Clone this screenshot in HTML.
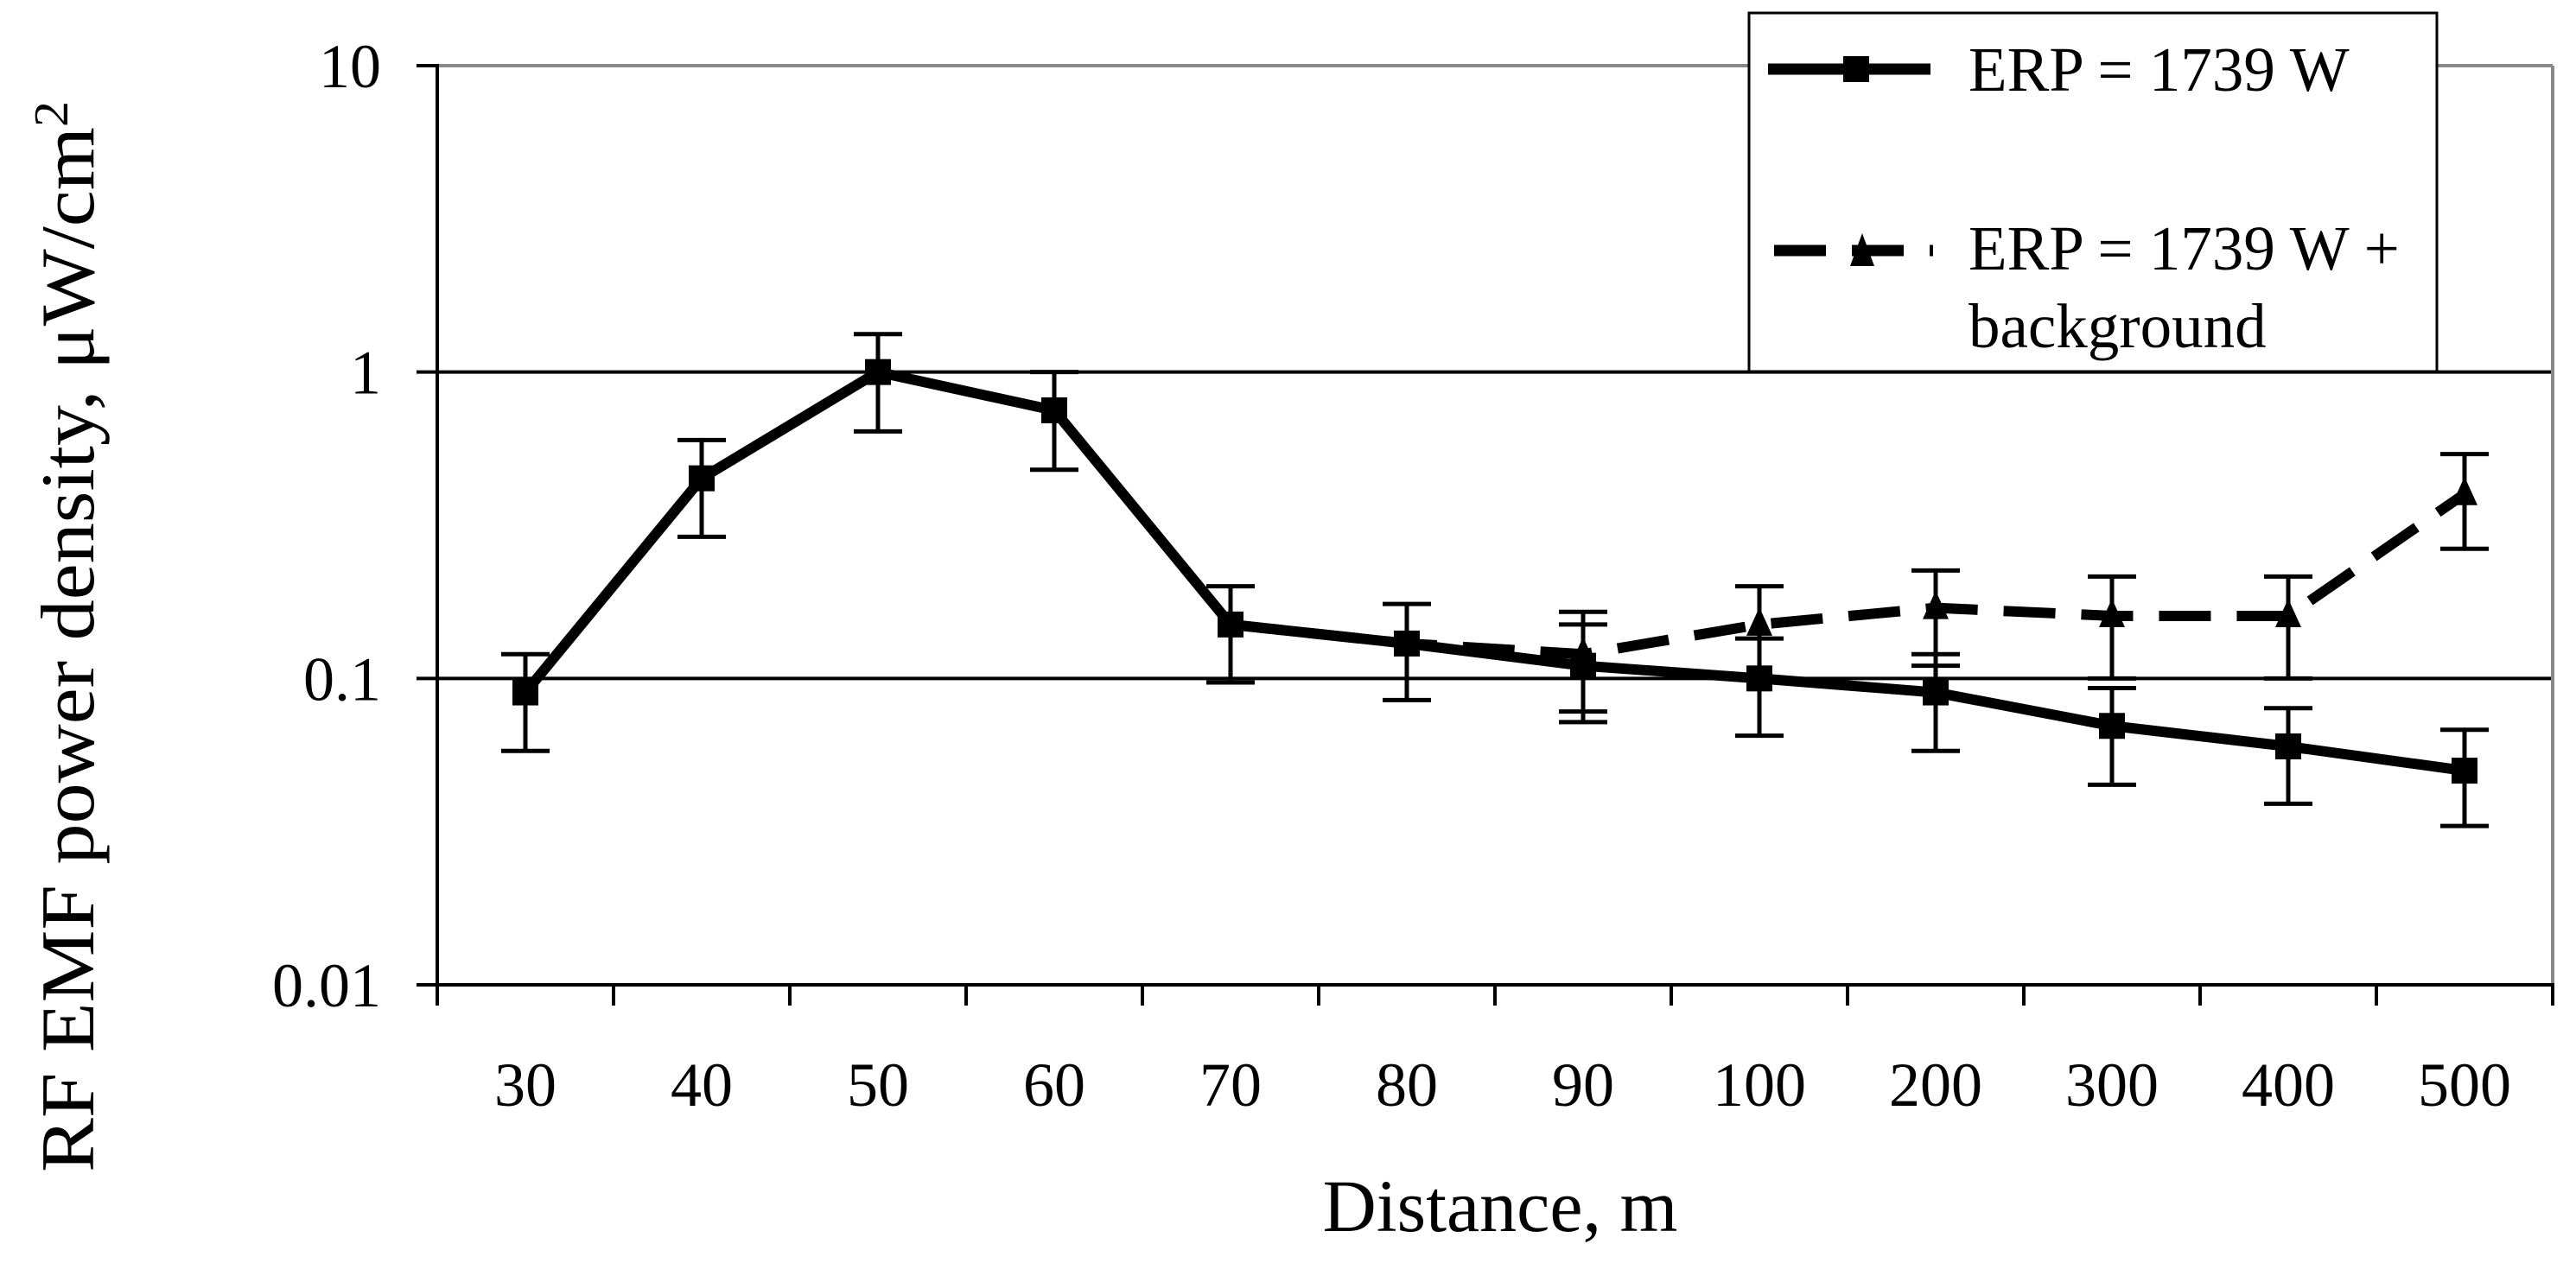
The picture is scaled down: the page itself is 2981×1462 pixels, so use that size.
<!DOCTYPE html>
<html><head><meta charset="utf-8"><style>
html,body{margin:0;padding:0;background:#fff}
svg{display:block}
text{font-family:"Liberation Serif",serif;fill:#000}
</style></head><body>
<svg id="chart" width="2981" height="1462" viewBox="0 0 2981 1462" xmlns="http://www.w3.org/2000/svg">
<rect x="0" y="0" width="2981" height="1462" fill="#fff"/>
<g id="grid"></g>
<g id="axes"></g>
<g id="series"></g>
<text x="1736" y="1425" font-size="86" text-anchor="middle">Distance, m</text>
<text transform="translate(108,737) rotate(-90)" font-size="88" text-anchor="middle" textLength="1240" lengthAdjust="spacingAndGlyphs">RF EMF power density, μW/cm<tspan dy="-30" font-size="56">2</tspan></text>
<g>
<rect x="2024" y="15" width="796" height="415" fill="#fff" stroke="#000" stroke-width="3"/>
<g>
<line x1="2046" y1="80" x2="2234" y2="80" stroke="#000" stroke-width="13"/>
<rect x="2133" y="65" width="30" height="30" fill="#000"/>
<text x="2278" y="105" font-size="73">ERP = 1739 W</text>
</g>
<g>
<line x1="2053" y1="290" x2="2237" y2="290" stroke="#000" stroke-width="13" stroke-dasharray="60,30"/>
<polygon points="2155,270 2141,308 2169,308" fill="#000"/>
<text x="2278" y="312" font-size="73">ERP = 1739 W +</text>
<text x="2278" y="402" font-size="73">background</text>
</g>
</g>
</svg>
<script>
const categories = ["30","40","50","60","70","80","90","100","200","300","400","500"];
const yTicks = [10, 1, 0.1, 0.01];
const yTickLabels = ["10","1","0.1","0.01"];
const erpValues = [0.09,0.45,1.0,0.75,0.15,0.13,0.11,0.1,0.09,0.07,0.06,0.05];
const erpUpper  = [0.12,0.6,1.33,1.0,0.2,0.175,0.15,0.135,0.12,0.093,0.08,0.068];
const erpLower  = [0.058,0.29,0.64,0.48,0.097,0.085,0.072,0.065,0.058,0.045,0.039,0.033];
const bgValues  = [null,null,null,null,0.15,0.13,0.12,0.15,0.17,0.16,0.16,0.4];
const bgUpper   = [null,null,null,null,null,null,0.165,0.2,0.225,0.215,0.215,0.54];
const bgLower   = [null,null,null,null,null,null,0.078,0.1,0.11,0.1,0.1,0.265];

const L=506, R=2954, T=76, B=1140;
const NS="http://www.w3.org/2000/svg";
const bw=(R-L)/categories.length;
function xPos(i){return L+bw*(i+0.5);}
function yPos(v){return B-(Math.log10(v)+2)*(B-T)/3;}
function mk(tag,attrs,parent){const e=document.createElementNS(NS,tag);for(const k in attrs)e.setAttribute(k,attrs[k]);parent.appendChild(e);return e;}
const grid=document.getElementById('grid'), axes=document.getElementById('axes'), ser=document.getElementById('series');

yTicks.forEach((v,i)=>{
  const y=yPos(v);
  if(i<yTicks.length-1){
    const g=mk('line',{x1:L,x2:R,y1:y,y2:y,stroke:i===0?'#888':'#000','stroke-width':4},grid);
    
    
  }
  const t=mk('line',{x1:L-24,x2:L,y1:y,y2:y,stroke:'#000','stroke-width':4},axes);
  
  
  const lb=mk('text',{x:441,y:y+25,'font-size':72,'text-anchor':'end'},axes);
  lb.textContent=yTickLabels[i];
  
  
});
const rb=mk('line',{x1:R,x2:R,y1:T,y2:B,stroke:'#888','stroke-width':4},grid);


const ya=mk('line',{x1:L,x2:L,y1:T-2,y2:B+2,stroke:'#000','stroke-width':4},axes);


const xa=mk('line',{x1:L,x2:R+2,y1:B,y2:B,stroke:'#000','stroke-width':4},axes);


for(let i=0;i<=categories.length;i++){
  const x=L+bw*i;
  const t=mk('line',{x1:x,x2:x,y1:B,y2:B+24,stroke:'#000','stroke-width':4},axes);
  
  
}
categories.forEach((c,i)=>{
  const lb=mk('text',{x:xPos(i),y:1280,'font-size':72,'text-anchor':'middle'},axes);
  lb.textContent=c;
  
  
});

function drawSeries(vals,up,lo,name,dash,marker){
  const g=mk('g',{},ser);
  
  
  up.forEach((u,i)=>{
    if(u==null)return;
    const x=xPos(i);
    const e=mk('path',{d:`M${x},${yPos(u)}V${yPos(lo[i])}M${x-28},${yPos(u)}H${x+28}M${x-28},${yPos(lo[i])}H${x+28}`,stroke:'#000','stroke-width':5,fill:'none'},g);
    
    
  });
  let d='';
  vals.forEach((v,i)=>{if(v==null)return;d+=(d?'L':'M')+xPos(i)+','+yPos(v);});
  const p=mk('path',{d:d,stroke:'#000','stroke-width':12,fill:'none','stroke-linejoin':'round'},g);
  if(dash)p.setAttribute('stroke-dasharray',dash);
  
  
  vals.forEach((v,i)=>{
    if(v==null)return;
    if(marker==='tri'&&up[i]==null)return;
    const x=xPos(i),y=yPos(v);
    let m;
    if(marker==='sq')m=mk('rect',{x:x-15,y:y-15,width:30,height:30,fill:'#000'},g);
    else m=mk('polygon',{points:`${x},${y-20} ${x-15},${y+13} ${x+15},${y+13}`,fill:'#000'},g);
    
    
  });
}
drawSeries(bgValues,bgUpper,bgLower,'series-erp-background','60,30','tri');
drawSeries(erpValues,erpUpper,erpLower,'series-erp',null,'sq');
</script>
</body></html>
